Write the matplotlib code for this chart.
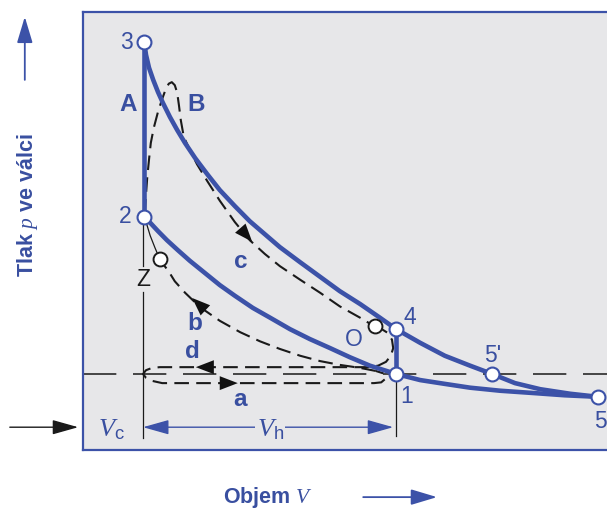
import matplotlib.pyplot as plt

# ------------------------------------------------------------
# data: volume V (Vc = 1) and pressure p (atmosphere = 1)
# ------------------------------------------------------------
p_atm = 1.0
V_c = 1.0
V_1 = 5.22

# ideal cycle, expansion 3 -> 4 -> 5' -> 5
exp_V = [1.02, 1.05, 1.10, 1.17, 1.25, 1.33, 1.45, 1.57, 1.70, 1.87, 2.07, 2.28, 2.53, 2.78, 3.03,
         3.28, 3.62, 3.95, 4.28, 4.62, 4.95, 5.22, 5.62, 6.03, 6.45, 6.82, 7.20, 7.62, 8.12, 8.58]
exp_p = [5.37, 5.20, 5.03, 4.87, 4.71, 4.57, 4.38, 4.21, 4.04, 3.84, 3.63, 3.42, 3.21, 3.01, 2.84,
         2.67, 2.47, 2.28, 2.09, 1.92, 1.74, 1.59, 1.41, 1.24, 1.11, 1.00, 0.88, 0.80, 0.74, 0.70]

# ideal cycle, compression 5 -> 1 -> 2
cmp_V = [1.02, 1.12, 1.25, 1.40, 1.58, 1.78, 2.03, 2.28, 2.53, 2.83, 3.12, 3.45, 3.78, 4.12, 4.45,
         4.78, 5.22, 5.62, 6.03, 6.45, 6.95, 7.50, 8.03, 8.58]
cmp_p = [3.07, 2.99, 2.88, 2.76, 2.63, 2.49, 2.33, 2.17, 2.03, 1.87, 1.74, 1.59, 1.46, 1.34, 1.22,
         1.11, 1.00, 0.92, 0.87, 0.82, 0.78, 0.75, 0.72, 0.70]

# real cycle: combustion + expansion (c) from 2 to O
comb_V = [1.03, 1.05, 1.07, 1.10, 1.13, 1.18, 1.25, 1.32, 1.38, 1.43, 1.48, 1.53, 1.57, 1.60, 1.63,
          1.68, 1.78, 1.90, 2.07, 2.28, 2.53, 2.78, 3.03, 3.28, 3.62, 3.95, 4.28, 4.62, 4.85]
comb_p = [3.11, 3.36, 3.58, 3.82, 4.04, 4.24, 4.45, 4.62, 4.75, 4.82, 4.84, 4.80, 4.70, 4.53, 4.34,
          4.12, 3.95, 3.76, 3.54, 3.28, 3.00, 2.76, 2.58, 2.42, 2.24, 2.07, 1.89, 1.74, 1.63]

# real cycle: blow-down, exhaust (d), intake (a)
gas_V = [4.85, 4.98, 5.08, 5.15, 5.17, 5.13, 5.05, 4.92, 4.75, 1.28, 1.15, 1.05, 1.00, 1.05, 1.15,
         1.32, 4.85, 4.97, 5.03, 5.05, 5.00, 4.88]
gas_p = [1.63, 1.59, 1.54, 1.45, 1.34, 1.24, 1.16, 1.11, 1.09, 1.09, 1.08, 1.05, 1.00, 0.95, 0.91,
         0.88, 0.88, 0.89, 0.93, 0.97, 1.01, 1.04]

# real cycle: compression (b) up to Z
b_V = [4.88, 4.62, 4.28, 3.95, 3.62, 3.28, 2.95, 2.62, 2.28, 1.95, 1.70, 1.53, 1.42, 1.33, 1.28]
b_p = [1.04, 1.08, 1.12, 1.17, 1.24, 1.33, 1.43, 1.55, 1.70, 1.88, 2.07, 2.22, 2.36, 2.45, 2.51]

# ignition delay Z -> 2
delay_V = [1.28, 1.20, 1.12, 1.07, 1.03]
delay_p = [2.51, 2.66, 2.82, 2.95, 3.05]

# state points
pt_names = ['3', '2', '4', '1', "5'", '5']
pt_V = [1.02, 1.02, 5.22, 5.22, 6.82, 8.58]
pt_p = [5.37, 3.07, 1.59, 1.00, 1.00, 0.70]
Z_V, Z_p = 1.28, 2.51
O_V, O_p = 4.87, 1.63

# ------------------------------------------------------------
BLUE = '#3c52a8'
TXT = '#394fa0'
BG = '#e7e7e9'
DARK = '#1a1a1a'

plt.rcParams['font.family'] = ['Liberation Sans', 'DejaVu Sans']
plt.rcParams['mathtext.fontset'] = 'custom'
plt.rcParams['mathtext.rm'] = 'Liberation Sans'
plt.rcParams['mathtext.it'] = 'Liberation Serif:italic'

fig = plt.figure(figsize=(6.07, 5.12), dpi=100)
ax = fig.add_axes([83 / 607, 62 / 512, 524 / 607, 438 / 512])
ax.set_xlim(0, 524 / 60)
ax.set_ylim(0, 438 / 76)
ax.set_facecolor(BG)
for s in ['left', 'top', 'bottom']:
    ax.spines[s].set_color(BLUE)
    ax.spines[s].set_linewidth(1.6)
ax.spines['right'].set_visible(False)
ax.set_xticks([])
ax.set_yticks([])

# atmospheric pressure
ax.axhline(p_atm, color='#2a2a2a', lw=1.2, dashes=(20, 10), zorder=1)

# thin construction lines
ax.plot([V_c, V_c], [0.16, 2.08], color=DARK, lw=0.9, zorder=1)
ax.plot([V_c, V_c], [2.42, 3.0], color=DARK, lw=0.9, zorder=1)
ax.plot([V_1, V_1], [0.18, 0.9], color=DARK, lw=0.9, zorder=1)

# real cycle (dashed)
dash = dict(color=DARK, lw=1.5, dashes=(7, 3.5), zorder=2)
ax.plot(comb_V, comb_p, **dash)
ax.plot(gas_V, gas_p, **dash)
ax.plot(b_V, b_p, **dash)
ax.plot(delay_V, delay_p, color=DARK, lw=0.9, zorder=2)

# ideal cycle (blue)
ax.plot(exp_V, exp_p, color=BLUE, lw=3.3, zorder=3)
ax.plot(cmp_V, cmp_p, color=BLUE, lw=3.3, zorder=3)
ax.plot([pt_V[0], pt_V[1]], [pt_p[0], pt_p[1]], color=BLUE, lw=3.3, zorder=3)
ax.plot([pt_V[2], pt_V[3]], [pt_p[2], pt_p[3]], color=BLUE, lw=3.3, zorder=3)

ax.plot(pt_V, pt_p, 'o', ms=10, mfc='white', mec=BLUE, mew=1.5, zorder=5, clip_on=False)
ax.plot([Z_V, O_V], [Z_p, O_p], 'o', ms=10, mfc='white', mec=DARK, mew=1.4, zorder=4)


def head(tail, tip):
    ax.annotate('', xy=tip, xytext=tail,
                arrowprops=dict(arrowstyle='-|>,head_length=1.3,head_width=0.5',
                                mutation_scale=10, color='#111111', lw=0,
                                shrinkA=0, shrinkB=0), zorder=6)


head((2.62, 2.92), (2.82, 2.74))   # c
head((2.05, 1.83), (1.82, 2.00))   # b
head((2.15, 1.09), (1.88, 1.09))   # d
head((2.30, 0.88), (2.58, 0.88))   # a

# point labels
lab = dict(color=TXT, fontsize=16.5, ha='center', va='center')
ax.text(0.72, 5.36, '3', **lab)
ax.text(0.70, 3.07, '2', **lab)
ax.text(5.45, 1.74, '4', **lab)
ax.text(5.40, 0.70, '1', **lab)
ax.text(6.83, 1.25, "5'", **lab)
ax.text(8.62, 0.38, '5', **lab)
ax.text(4.52, 1.46, 'O', **lab)
ax.text(1.00, 2.25, 'Z', color=DARK, fontsize=16.5, ha='center', va='center')

bold = dict(color=TXT, fontsize=17.5, fontweight='bold', ha='center', va='center')
ax.text(0.75, 4.54, 'A', **bold)
ax.text(1.88, 4.54, 'B', **bold)
ax.text(2.63, 2.48, 'c', **bold)
ax.text(1.87, 1.67, 'b', **bold)
ax.text(1.83, 1.29, 'd', **bold)
ax.text(2.62, 0.66, 'a', **bold)

# volume dimensions
ax.annotate('', xy=(5.17, 0.30), xytext=(V_c, 0.30),
            arrowprops=dict(arrowstyle='<|-|>,head_length=1.6,head_width=0.45',
                            mutation_scale=10, color=BLUE, lw=1.0, shrinkA=0, shrinkB=0))
ax.text(3.12, 0.27, r'$V_\mathrm{h}$', color=TXT, fontsize=19, ha='center', va='center',
        bbox=dict(facecolor=BG, edgecolor='none', pad=1))
ax.text(0.48, 0.27, r'$V_\mathrm{c}$', color=TXT, fontsize=19, ha='center', va='center')

# arrows and titles outside the frame
ax.annotate('', xy=(-0.08, 0.30), xytext=(-1.22, 0.30), annotation_clip=False,
            arrowprops=dict(arrowstyle='-|>,head_length=1.6,head_width=0.45',
                            mutation_scale=10, color=DARK, lw=1.0, shrinkA=0, shrinkB=0))
ax.annotate('', xy=(-0.97, 5.70), xytext=(-0.97, 4.87), annotation_clip=False,
            arrowprops=dict(arrowstyle='-|>,head_length=1.6,head_width=0.48',
                            mutation_scale=10, color=BLUE, lw=1.3, shrinkA=0, shrinkB=0))
ax.annotate('', xy=(5.90, -0.62), xytext=(4.67, -0.62), annotation_clip=False,
            arrowprops=dict(arrowstyle='-|>,head_length=1.6,head_width=0.48',
                            mutation_scale=10, color=BLUE, lw=1.3, shrinkA=0, shrinkB=0))

ax.text(-0.93, 3.22, 'Tlak $p$ ve válci', rotation=90, color=TXT, fontsize=15.5,
        fontweight='bold', ha='center', va='center', clip_on=False)
ax.text(3.08, -0.62, 'Objem $V$', color=TXT, fontsize=15.5, fontweight='bold',
        ha='center', va='center', clip_on=False)

fig.savefig('out.png', dpi=100)
